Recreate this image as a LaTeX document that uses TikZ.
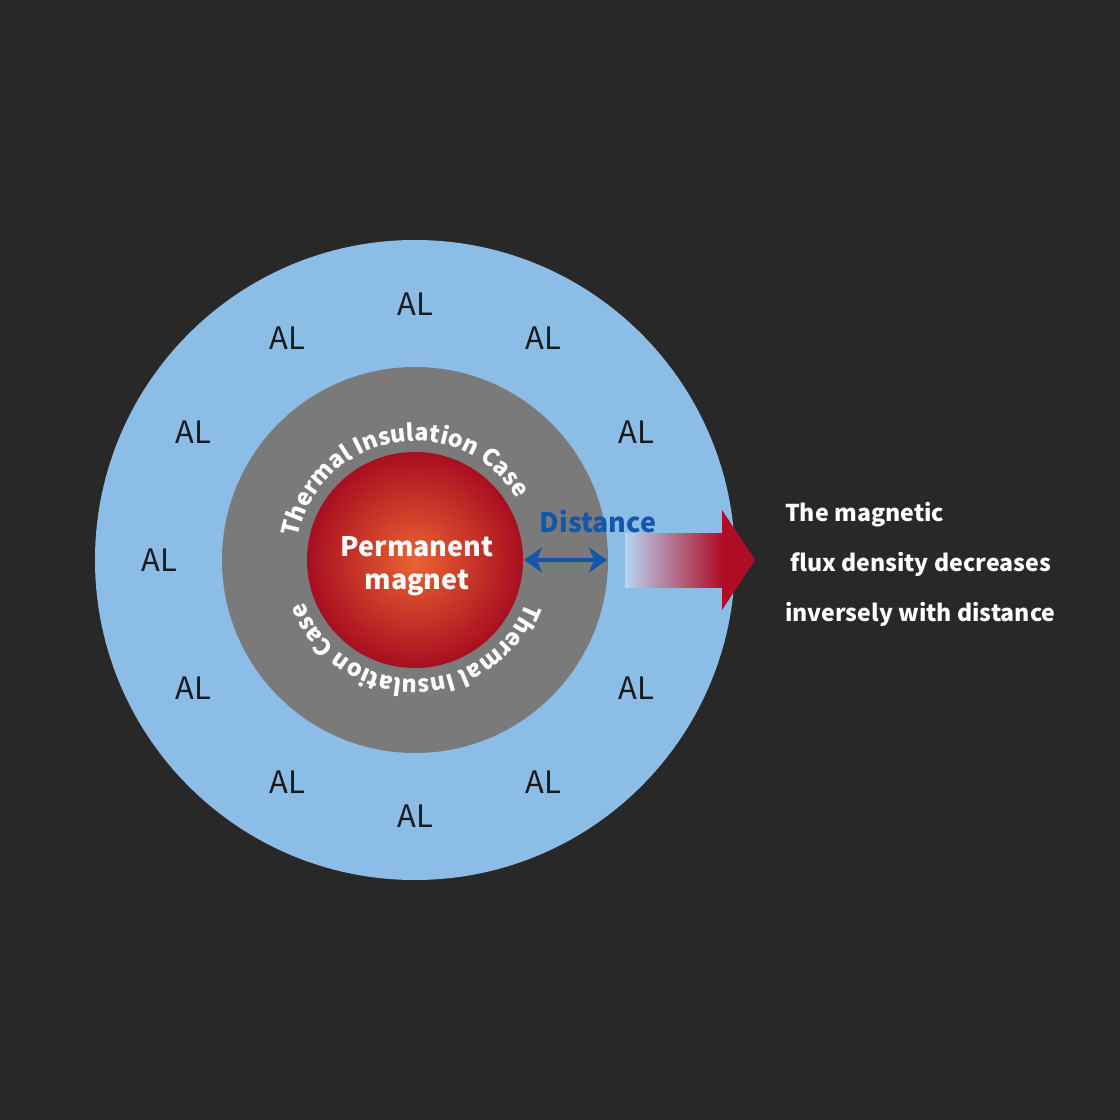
\documentclass[tikz,border=0pt]{standalone}
\usepackage{fontspec}
\setmainfont{Noto Sans CJK JP}
\usepackage{tikz}
\usetikzlibrary{arrows.meta,positioning,calc,decorations.text}

\definecolor{bgdark}{HTML}{282828}
\definecolor{alblue}{HTML}{8CBDE6}
\definecolor{casegray}{HTML}{7A7A7A}
\definecolor{magcore}{HTML}{EA6432}
\definecolor{magedge}{HTML}{A80E20}
\definecolor{distblue}{HTML}{1457A8}
\definecolor{arrred}{HTML}{B00C24}
\definecolor{arrlight}{HTML}{B4D4F2}

\begin{document}
\begin{tikzpicture}[
  x=1bp, y=1bp,
  disc/.style={circle, inner sep=0pt, outer sep=0pt},
  al/.style={font=\fontsize{31}{36}\selectfont, text=black!90},
  curved/.style={decorate, decoration={text along path, text align=center,
    text color=white, text={|\fontsize{23.5}{28}\selectfont\bfseries|Thermal Insulation Case}}},
  darr/.style={{Stealth[length=18bp,width=25bp,inset=5bp]}-{Stealth[length=18bp,width=25bp,inset=5bp]},
    line width=4bp, distblue, shorten <=1bp, shorten >=1bp}
]
  \fill[bgdark] (-415,-560) rectangle (705,560);
  \useasboundingbox (-415,-560) rectangle (705,560);

  \node[disc, fill=alblue, minimum size=640bp] (outer) at (0,0) {};
  \node[disc, fill=casegray, minimum size=386bp] (case) at (0,0) {};
  \node[disc, minimum size=216bp, inner color=magcore, outer color=magedge] (magnet) at (0,0) {};

  \foreach \a in {30,60,...,330}
    \node[al] (al-\a) at (\a:256) {AL};

  \path[curved] (190:119) arc[start angle=190, end angle=10, radius=119];
  \path[curved] (0:119) arc[start angle=0, end angle=-180, radius=119];

  \node[align=center, text=white, font=\fontsize{27}{33}\selectfont\bfseries] (mag) at (2,-6) {Permanent\\magnet};

  \draw[darr] (magnet.east) -- (case.east);
  \node[anchor=base, text=distblue, font=\fontsize{27}{32}\selectfont\bfseries] (dist) at (183,28) {Distance};

  \shade[left color=arrlight, right color=arrred] (210,-27) rectangle (308,27);
  \fill[arrred] (307,-50) -- (340,0) -- (307,50) -- cycle;

  \node[anchor=north west, inner sep=0pt, align=left, text=white,
    font=\fontsize{23.2}{50}\selectfont\bfseries] (flux) at (370,58)
    {The magnetic\\\hspace*{5bp}flux density decreases\\inversely with distance};
\end{tikzpicture}
\end{document}
